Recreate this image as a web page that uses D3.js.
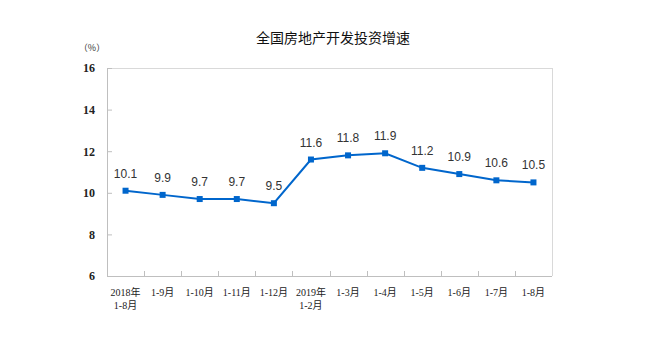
<!DOCTYPE html>
<html>
<head>
<meta charset="utf-8">
<script src="https://cdn.jsdelivr.net/npm/d3@7"></script>
<style>
  body { margin: 0; background: #fff; }
</style>
</head>
<body>
<div id="chart"></div>
<script>
var categories = [
    ['2018年', '1-8月'], ['1-9月'], ['1-10月'], ['1-11月'], ['1-12月'],
    ['2019年', '1-2月'], ['1-3月'], ['1-4月'], ['1-5月'], ['1-6月'], ['1-7月'], ['1-8月']
];
var growth = [10.1, 9.9, 9.7, 9.7, 9.5, 11.6, 11.8, 11.9, 11.2, 10.9, 10.6, 10.5];
var yTicks = [6, 8, 10, 12, 14, 16];

var width = 668, height = 351;
var margin = { top: 68, right: 116, bottom: 75, left: 107 };
var innerW = width - margin.left - margin.right;
var innerH = height - margin.top - margin.bottom;

var svg = d3.select('#chart')
    .append('svg')
    .attr('width', width)
    .attr('height', height);

var g = svg.append('g')
    .attr('transform', `translate(${margin.left},${margin.top})`);

var x = d3.scaleBand()
    .domain(d3.range(categories.length))
    .range([0, innerW])
    .padding(0);

var y = d3.scaleLinear()
    .domain([6, 16])
    .range([innerH, 0]);

// title
svg.append('text')
    .attr('x', 333)
    .attr('y', 43)
    .attr('text-anchor', 'middle')
    .attr('font-family', '"Noto Sans CJK SC", sans-serif')
    .attr('font-size', 14)
    .attr('fill', '#111')
    .text('全国房地产开发投资增速');

svg.append('text')
    .attr('x', 92)
    .attr('y', 51)
    .attr('text-anchor', 'middle')
    .attr('font-family', '"Noto Sans CJK SC", sans-serif')
    .attr('font-size', 9)
    .attr('fill', '#333')
    .text('（%）');

// frame: top and right lighter
g.append('line').attr('x1', 0).attr('x2', innerW).attr('y1', 0.5).attr('y2', 0.5)
    .attr('stroke', '#d9d9d9');
g.append('line').attr('x1', innerW + 0.5).attr('x2', innerW + 0.5).attr('y1', 0).attr('y2', innerH)
    .attr('stroke', '#d9d9d9');

// y axis
var yAxis = g.append('g')
    .call(d3.axisLeft(y).tickValues(yTicks).tickSize(-5).tickPadding(12));
yAxis.select('.domain').attr('stroke', '#bfbfbf');
yAxis.selectAll('.tick line').attr('stroke', '#bfbfbf');
yAxis.selectAll('.tick text')
    .attr('font-family', '"Liberation Serif", serif')
    .attr('font-weight', 'bold')
    .attr('font-size', 12)
    .attr('fill', '#222');

// x axis with ticks between bands
var xAxis = g.append('g')
    .attr('transform', `translate(0,${innerH})`);
xAxis.append('line')
    .attr('x1', 0).attr('x2', innerW)
    .attr('y1', 0.5).attr('y2', 0.5)
    .attr('stroke', '#bfbfbf');
xAxis.selectAll('line.sep')
    .data(d3.range(1, categories.length))
    .join('line')
    .attr('class', 'sep')
    .attr('x1', d => Math.round(x(d)) + 0.5)
    .attr('x2', d => Math.round(x(d)) + 0.5)
    .attr('y1', 0)
    .attr('y2', -5)
    .attr('stroke', '#bfbfbf');

var xLabels = xAxis.selectAll('text.cat')
    .data(categories)
    .join('text')
    .attr('class', 'cat')
    .attr('text-anchor', 'middle')
    .attr('font-family', '"Liberation Serif", "Noto Sans CJK SC", serif')
    .attr('font-size', 10)
    .attr('fill', '#222')
    .attr('transform', (d, i) => `translate(${x(i) + x.bandwidth() / 2},20)`);
xLabels.selectAll('tspan')
    .data(d => d)
    .join('tspan')
    .attr('x', 0)
    .attr('dy', (d, j) => j == 0 ? 0 : 13)
    .text(d => d);

// line
var line = d3.line()
    .x((d, i) => x(i) + x.bandwidth() / 2)
    .y(d => y(d));

g.append('path')
    .datum(growth)
    .attr('d', line)
    .attr('fill', 'none')
    .attr('stroke', '#0066cc')
    .attr('stroke-width', 2);

g.selectAll('rect.pt')
    .data(growth)
    .join('rect')
    .attr('class', 'pt')
    .attr('x', (d, i) => x(i) + x.bandwidth() / 2 - 3)
    .attr('y', d => y(d) - 3)
    .attr('width', 6)
    .attr('height', 6)
    .attr('fill', '#0066cc');

g.selectAll('text.val')
    .data(growth)
    .join('text')
    .attr('class', 'val')
    .attr('x', (d, i) => x(i) + x.bandwidth() / 2)
    .attr('y', d => y(d) - 13)
    .attr('text-anchor', 'middle')
    .attr('font-family', '"Liberation Sans", Arial, sans-serif')
    .attr('font-size', 12)
    .attr('fill', '#333')
    .text(d => d.toFixed(1));
</script>
</body>
</html>
